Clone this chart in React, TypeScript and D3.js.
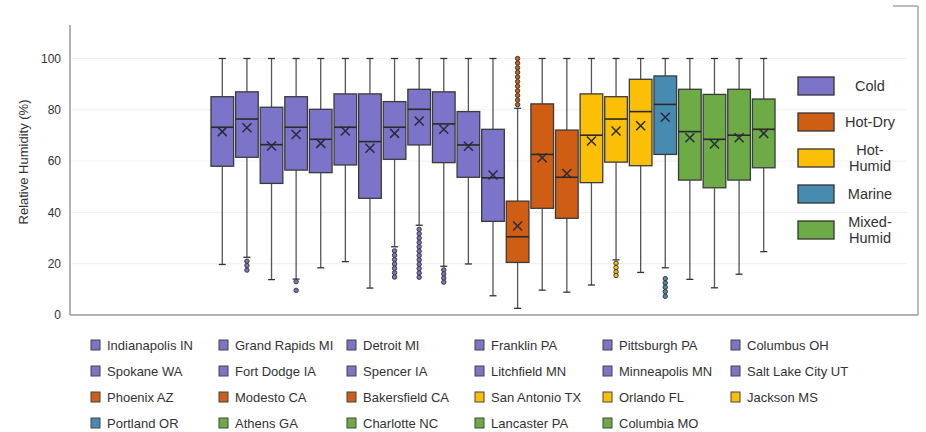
import React from "react";
import * as d3 from "d3";

const cities = [
  "Indianapolis IN", "Grand Rapids MI", "Detroit MI", "Franklin PA", "Pittsburgh PA", "Columbus OH",
  "Spokane WA", "Fort Dodge IA", "Spencer IA", "Litchfield MN", "Minneapolis MN", "Salt Lake City UT",
  "Phoenix AZ", "Modesto CA", "Bakersfield CA", "San Antonio TX", "Orlando FL", "Jackson MS",
  "Portland OR", "Athens GA", "Charlotte NC", "Lancaster PA", "Columbia MO",
];
const climateOf = [
  "Cold", "Cold", "Cold", "Cold", "Cold", "Cold", "Cold", "Cold", "Cold", "Cold", "Cold", "Cold",
  "Hot-Dry", "Hot-Dry", "Hot-Dry", "Hot-Humid", "Hot-Humid", "Hot-Humid",
  "Marine", "Mixed-Humid", "Mixed-Humid", "Mixed-Humid", "Mixed-Humid",
];
const q1 = [58, 61.5, 51.3, 56.5, 55.5, 58.5, 45.5, 60.7, 66.3, 59.4, 53.7, 36.5, 20.5, 41.6, 37.7, 51.6, 59.6, 58.2, 62.6, 52.6, 49.6, 52.6, 57.4];
const median = [73.2, 76.4, 66.4, 73.2, 68.5, 73.2, 67.6, 73.2, 80.2, 74.5, 66.3, 53.5, 30.5, 62.6, 53.7, 70.1, 76.4, 79.3, 82.1, 71.5, 68.5, 70.1, 72.4];
const q3 = [85.1, 87, 81, 85.1, 80.2, 86.2, 86.2, 83.2, 88, 87, 79.3, 72.4, 44.4, 82.3, 72.1, 86.2, 85.1, 91.9, 93.2, 88, 86, 88, 84.2];
const mean = [71.5, 73, 65.9, 70.4, 66.9, 71.7, 65, 70.8, 75.6, 72.4, 65.8, 54.6, 34.7, 61.3, 55.2, 67.8, 71.7, 73.8, 77.1, 69.1, 66.7, 69.1, 70.8];
const whiskerLow = [19.7, 22.5, 13.8, 14, 18.4, 20.8, 10.5, 26.6, 35, 19, 19.9, 7.5, 2.6, 9.7, 8.9, 11.7, 21.5, 16.6, 18.4, 13.9, 10.6, 15.9, 24.7];
const whiskerHigh = [100, 100, 100, 100, 100, 100, 100, 100, 100, 100, 100, 100, 80.6, 100, 100, 100, 100, 100, 100, 100, 100, 100, 100];
const outliers: number[][] = [
  [],
  [21, 19.3, 17.5],
  [],
  [13, 9.6],
  [],
  [],
  [],
  [25, 23.3, 21.6, 19.9, 18.2, 16.5, 14.8],
  [33.4, 31.7, 30, 28.3, 26.6, 24.9, 23.2, 21.5, 19.8, 18.1, 16.4, 14.7],
  [17.6, 16, 14.4, 12.8],
  [],
  [],
  [100, 98.2, 96.4, 94.6, 92.8, 91, 89.2, 87.4, 85.6, 83.8, 82],
  [],
  [],
  [],
  [20.2, 18.5, 16.8, 15.4],
  [],
  [14.2, 12.5, 10.8, 9.1, 7.3],
  [],
  [],
  [],
  [],
];

const climates = ["Cold", "Hot-Dry", "Hot-Humid", "Marine", "Mixed-Humid"];
const climateLabels = [["Cold"], ["Hot-Dry"], ["Hot-", "Humid"], ["Marine"], ["Mixed-", "Humid"]];
const climateColors = ["#7b74c8", "#cf5e14", "#fcbf07", "#478bb0", "#6cab45"];
const yTicks = [0, 20, 40, 60, 80, 100];

const FONT = "'Liberation Sans', Arial, sans-serif";

export default function App() {
  const W = 926;
  const H = 432;
  const axisLeft = 70;
  const frameRight = 918;

  const x = d3.scaleBand<string>().domain(cities).range([210, 776]).paddingInner(0.08).paddingOuter(0.04);
  const y = d3.scaleLinear().domain([0, 100]).range([315, 58.5]);
  const color = d3.scaleOrdinal<string, string>().domain(climates).range(climateColors);
  const bw = x.bandwidth();

  // legend layout (right side)
  const legendRows = d3.scalePoint<string>().domain(climates).range([86, 230]);
  // bottom legend layout
  const colX = (i: number) => 91 + 128 * (i % 6);
  const rowY = (i: number) => 345 + 26 * Math.floor(i / 6);

  return (
    <svg width={W} height={H} style={{ position: "absolute", left: 0, top: 0 }} fontFamily={FONT}>
      <rect x={0} y={0} width={W} height={H} fill="#ffffff" />

      {/* frame edge */}
      <line x1={893} x2={frameRight} y1={6} y2={6} stroke="#a6a6a6" strokeWidth={1.5} />
      <line x1={frameRight} x2={frameRight} y1={6} y2={315} stroke="#a6a6a6" strokeWidth={1.5} />

      {/* gridlines */}
      {yTicks.filter((t) => t > 0).map((t) => (
        <line key={t} x1={axisLeft} x2={907} y1={y(t)} y2={y(t)} stroke="#efefef" strokeWidth={1} />
      ))}

      {/* axes */}
      <line x1={axisLeft} x2={axisLeft} y1={25} y2={315} stroke="#9a9a9a" strokeWidth={1.5} />
      <line x1={axisLeft} x2={frameRight} y1={315} y2={315} stroke="#9a9a9a" strokeWidth={1.5} />
      {yTicks.map((t) => (
        <text key={t} x={61} y={y(t)} dy="0.35em" textAnchor="end" fontSize={12} fill="#333">
          {t}
        </text>
      ))}
      <text
        transform={`translate(28,${162}) rotate(-90)`}
        textAnchor="middle"
        fontSize={13}
        fill="#333"
      >
        Relative Humidity (%)
      </text>

      {/* boxes */}
      {cities.map((c, i) => {
        const x0 = x(c) as number;
        const cx = x0 + bw / 2;
        const fill = color(climateOf[i]);
        return (
          <g key={c}>
            <line x1={cx} x2={cx} y1={y(whiskerHigh[i])} y2={y(q3[i])} stroke="#555" strokeWidth={1.3} />
            <line x1={cx} x2={cx} y1={y(q1[i])} y2={y(whiskerLow[i])} stroke="#555" strokeWidth={1.3} />
            <line x1={cx - 3.5} x2={cx + 3.5} y1={y(whiskerHigh[i])} y2={y(whiskerHigh[i])} stroke="#333" strokeWidth={1.3} />
            <line x1={cx - 3.5} x2={cx + 3.5} y1={y(whiskerLow[i])} y2={y(whiskerLow[i])} stroke="#333" strokeWidth={1.3} />
            <rect
              x={x0}
              y={y(q3[i])}
              width={bw}
              height={y(q1[i]) - y(q3[i])}
              fill={fill}
              stroke="#3a3a3a"
              strokeWidth={1.3}
            />
            <line x1={x0} x2={x0 + bw} y1={y(median[i])} y2={y(median[i])} stroke="#2a2a2a" strokeWidth={1.6} />
            <path
              d={`M${cx - 4.5},${y(mean[i]) - 4.5}L${cx + 4.5},${y(mean[i]) + 4.5}M${cx - 4.5},${y(mean[i]) + 4.5}L${cx + 4.5},${y(mean[i]) - 4.5}`}
              stroke="#2a2a3a"
              strokeWidth={1.5}
              fill="none"
            />
            {outliers[i].map((v, k) => (
              <circle key={k} cx={cx} cy={y(v)} r={2.2} fill={fill} stroke="#3a3a3a" strokeWidth={1} />
            ))}
          </g>
        );
      })}

      {/* climate legend */}
      {climates.map((cl, i) => {
        const cy = legendRows(cl) as number;
        const lines = climateLabels[i];
        return (
          <g key={cl}>
            <rect x={798} y={cy - 9} width={36} height={18} fill={climateColors[i]} stroke="#333" strokeWidth={1.3} />
            {lines.map((ln, k) => (
              <text
                key={k}
                x={870}
                y={cy + 5 + (k - (lines.length - 1) / 2) * 15.5}
                textAnchor="middle"
                fontSize={14.5}
                fill="#333"
              >
                {ln}
              </text>
            ))}
          </g>
        );
      })}

      {/* city legend */}
      {cities.map((c, i) => (
        <g key={`lg-${c}`}>
          <rect x={colX(i)} y={rowY(i) - 5} width={9} height={10} fill={color(climateOf[i])} stroke="#444" strokeWidth={1} />
          <text x={colX(i) + 16} y={rowY(i)} dy="0.35em" fontSize={13} fill="#333">
            {c}
          </text>
        </g>
      ))}
    </svg>
  );
}
